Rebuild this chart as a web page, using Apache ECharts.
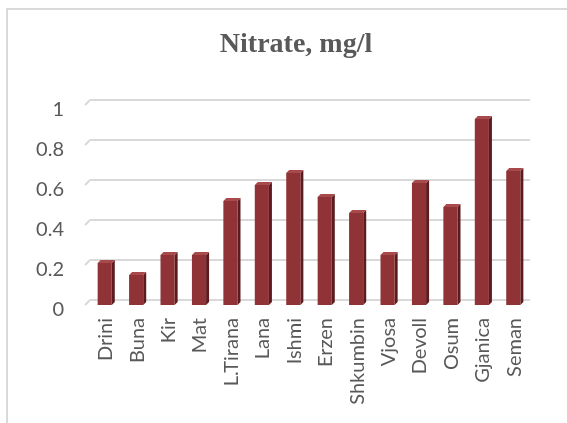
<!DOCTYPE html>
<html>
<head>
<meta charset="utf-8">
<script src="https://cdn.jsdelivr.net/npm/echarts@6/dist/echarts.min.js"></script>
<style>
  html, body { margin: 0; padding: 0; background: #ffffff; }
  #frame { position: absolute; left: 6px; top: 8px; width: 561px; height: 415px;
           border-top: 2px solid #d9d9d9; border-left: 2px solid #d9d9d9; box-sizing: border-box; }
  #chart { position: absolute; left: 0; top: 0; width: 567px; height: 423px; }
</style>
</head>
<body>
<div id="frame"></div>
<div id="chart"></div>
<script>
const titleText = 'Nitrate, mg/l';
const rivers = ['Drini', 'Buna', 'Kir', 'Mat', 'L.Tirana', 'Lana', 'Ishmi', 'Erzen', 'Shkumbin', 'Vjosa', 'Devoll', 'Osum', 'Gjanica', 'Seman'];
const nitrate = [0.21, 0.15, 0.25, 0.25, 0.52, 0.60, 0.66, 0.54, 0.46, 0.25, 0.61, 0.49, 0.93, 0.67];
const yTicks = [0, 0.2, 0.4, 0.6, 0.8, 1];

const chart = echarts.init(document.getElementById('chart'), null, { renderer: 'canvas' });

function renderBar(params, api) {
  const i = api.value(0), v = api.value(1);
  const topPt = api.coord([i, v]);
  const basePt = api.coord([i, 0]);
  const band = api.size([1, 0])[0];
  const w = band * 0.45, ox = 1, dy = 5, sx = 3, sy = 3;
  const xl = topPt[0] - w / 2 - ox, xr = xl + w;
  const ty = topPt[1] + dy, by = basePt[1] + dy;
  return {
    type: 'group',
    children: [
      { type: 'polygon', shape: { points: [[xr, ty], [xr + sx, ty - sy], [xr + sx, by - sy], [xr, by]] },
        style: { fill: '#5c1c1f' } },
      { type: 'polygon', shape: { points: [[xl, ty], [xr, ty], [xr + sx, ty - sy], [xl + sx, ty - sy]] },
        style: { fill: '#a84a4c' } },
      { type: 'rect', shape: { x: xl, y: ty, width: w, height: by - ty },
        style: { fill: '#8f3336' } }
    ]
  };
}

function renderTickDiag(params, api) {
  const t = api.value(1);
  const p = api.coord([0, t]);
  const x0 = params.coordSys.x;
  return { type: 'line', shape: { x1: x0, y1: p[1], x2: x0 - 5, y2: p[1] + 5 },
           style: { stroke: '#d9d9d9', lineWidth: 2 } };
}

chart.setOption({
  animation: false,
  backgroundColor: 'transparent',
  title: {
    text: titleText, left: 291, top: 26, textAlign: 'center',
    textStyle: { fontFamily: 'Liberation Serif', fontWeight: 'bold', fontSize: 28, color: '#595959' }
  },
  grid: { left: 90, right: 37, top: 100, bottom: 123, containLabel: false },
  xAxis: {
    type: 'category', data: rivers,
    axisLine: { show: false }, axisTick: { show: false },
    axisLabel: { rotate: 90, interval: 0, margin: 18, color: '#595959', fontFamily: 'Lato', fontSize: 20 }
  },
  yAxis: {
    type: 'value', min: 0, max: 1, interval: 0.2,
    axisLine: { show: false }, axisTick: { show: false },
    splitLine: { lineStyle: { color: '#d9d9d9', width: 2 } },
    axisLabel: { margin: 26, color: '#595959', fontFamily: 'Lato', fontSize: 20, verticalAlign: 'top',
                 formatter: v => String(Math.round(v * 10) / 10) }
  },
  series: [
    { type: 'custom', renderItem: renderTickDiag, data: yTicks.map(t => [0, t]), silent: true, z: 1 },
    { type: 'custom', renderItem: renderBar, data: nitrate.map((v, i) => [i, v]), z: 3 }
  ]
});
</script>
</body>
</html>
